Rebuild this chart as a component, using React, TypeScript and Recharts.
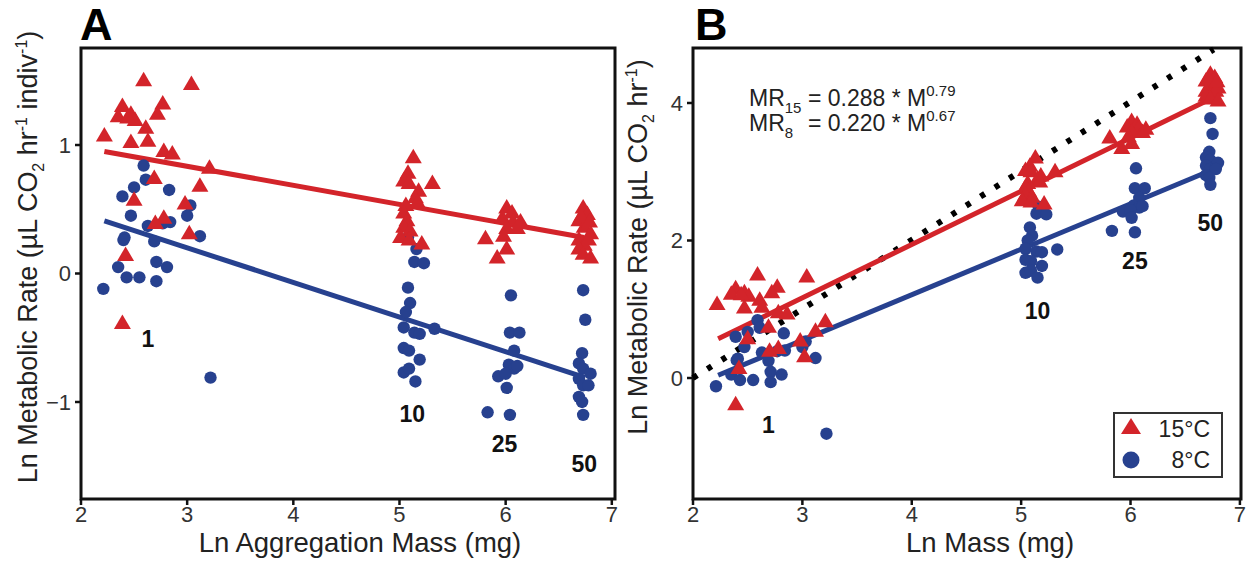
import {
  ScatterChart,
  Scatter,
  XAxis,
  YAxis,
  ReferenceLine,
  ReferenceArea,
  ReferenceDot,
  Legend,
} from "recharts";

// ---- data ----
const X_TICKS = [2, 3, 4, 5, 6, 7];
const A_Y_TICKS = [-1, 0, 1];
const B_Y_TICKS = [0, 2, 4];

// single individuals (same points in both panels)
const RED_1 = [
  [2.59, 1.5], [3.04, 1.47], [2.39, 1.3], [2.77, 1.32], [2.35, 1.22], [2.47, 1.24],
  [2.51, 1.19], [2.44, 1.21], [2.72, 1.24], [2.61, 1.13], [2.22, 1.07], [2.47, 1.02],
  [2.63, 1.03], [2.78, 0.95], [2.86, 0.93], [3.21, 0.82], [2.69, 0.74], [3.12, 0.68],
  [2.5, 0.57], [2.98, 0.54], [2.78, 0.43], [2.7, 0.39], [3.02, 0.31], [2.42, 0.14],
  [2.39, -0.39],
];
const BLUE_1 = [
  [2.59, 0.84], [2.61, 0.73], [2.5, 0.67], [2.83, 0.65], [2.39, 0.6], [3.03, 0.53],
  [2.47, 0.45], [3.0, 0.45], [2.84, 0.4], [2.77, 0.39], [2.63, 0.37], [3.12, 0.29],
  [2.41, 0.28], [2.4, 0.26], [2.69, 0.25], [2.35, 0.05], [2.71, 0.09], [2.81, 0.05],
  [2.43, -0.03], [2.55, -0.03], [2.71, -0.06], [2.21, -0.12], [3.22, -0.81],
];

// panel A: per-individual rate
const RED_A_10 = [
  [5.13, 0.9], [5.08, 0.78], [5.04, 0.72], [5.09, 0.7], [5.31, 0.7], [5.18, 0.64],
  [5.15, 0.59], [5.17, 0.55], [5.06, 0.53], [5.04, 0.47], [5.07, 0.41], [5.04, 0.36],
  [5.1, 0.33], [5.01, 0.28], [5.09, 0.26], [5.21, 0.23],
];
const RED_A_25 = [
  [6.01, 0.51], [6.06, 0.47], [5.97, 0.43], [6.07, 0.4], [6.01, 0.35], [6.11, 0.35],
  [5.98, 0.29], [5.81, 0.27], [6.01, 0.19], [5.92, 0.12], [6.14, 0.4],
];
const RED_A_50 = [
  [6.73, 0.51], [6.77, 0.46], [6.69, 0.41], [6.74, 0.36], [6.8, 0.31], [6.69, 0.26],
  [6.74, 0.22], [6.78, 0.26], [6.69, 0.19], [6.73, 0.15], [6.8, 0.12], [6.71, 0.44],
  [6.79, 0.4],
];
const BLUE_A_10 = [
  [5.08, 0.28], [5.16, 0.19], [5.14, 0.09], [5.23, 0.08], [5.08, -0.11], [5.1, -0.23],
  [5.06, -0.3], [5.04, -0.42], [5.14, -0.46], [5.19, -0.47], [5.33, -0.43], [5.04, -0.58],
  [5.09, -0.6], [5.19, -0.67], [5.04, -0.77], [5.09, -0.74], [5.15, -0.84],
];
const BLUE_A_25 = [
  [6.05, -0.17], [6.04, -0.46], [6.13, -0.46], [6.08, -0.6], [6.03, -0.71], [6.08, -0.74],
  [5.93, -0.8], [6.0, -0.78], [6.01, -0.89], [5.83, -1.08], [6.04, -1.1], [6.11, -0.72],
];
const BLUE_A_50 = [
  [6.73, -0.13], [6.75, -0.36], [6.72, -0.62], [6.69, -0.7], [6.73, -0.74], [6.8, -0.78],
  [6.69, -0.82], [6.73, -0.87], [6.78, -0.87], [6.69, -0.96], [6.72, -1.0], [6.73, -1.1],
];

// panel B: whole-aggregation rate
const RED_B_10 = [
  [5.13, 3.2], [5.08, 3.08], [5.04, 3.02], [5.09, 3.0], [5.31, 3.0], [5.18, 2.94],
  [5.15, 2.89], [5.17, 2.85], [5.06, 2.83], [5.04, 2.77], [5.07, 2.71], [5.04, 2.66],
  [5.1, 2.63], [5.01, 2.58], [5.09, 2.56], [5.21, 2.53],
];
const RED_B_25 = [
  [6.01, 3.73], [6.06, 3.69], [5.97, 3.65], [6.07, 3.62], [6.01, 3.57], [6.11, 3.57],
  [5.98, 3.51], [5.81, 3.49], [6.01, 3.41], [5.92, 3.34], [6.14, 3.62],
];
const RED_B_50 = [
  [6.73, 4.42], [6.77, 4.37], [6.69, 4.32], [6.74, 4.27], [6.8, 4.22], [6.69, 4.17],
  [6.74, 4.13], [6.78, 4.17], [6.69, 4.1], [6.73, 4.06], [6.8, 4.03], [6.71, 4.35],
  [6.79, 4.31],
];
const BLUE_B_10 = [
  [5.08, 2.58], [5.16, 2.49], [5.14, 2.39], [5.23, 2.38], [5.08, 2.19], [5.1, 2.07],
  [5.06, 2.0], [5.04, 1.88], [5.14, 1.84], [5.19, 1.83], [5.33, 1.87], [5.04, 1.72],
  [5.09, 1.7], [5.19, 1.63], [5.04, 1.53], [5.09, 1.56], [5.15, 1.46],
];
const BLUE_B_25 = [
  [6.05, 3.05], [6.04, 2.76], [6.13, 2.76], [6.08, 2.62], [6.03, 2.51], [6.08, 2.48],
  [5.93, 2.42], [6.0, 2.44], [6.01, 2.33], [5.83, 2.14], [6.04, 2.12], [6.11, 2.5],
];
const BLUE_B_50 = [
  [6.73, 3.78], [6.75, 3.55], [6.72, 3.29], [6.69, 3.21], [6.73, 3.17], [6.8, 3.13],
  [6.69, 3.09], [6.73, 3.04], [6.78, 3.04], [6.69, 2.95], [6.72, 2.91], [6.73, 2.81],
];

// fitted lines (end points)
const FIT_A_15 = [[2.22, 0.95], [6.74, 0.28]];
const FIT_A_8 = [[2.22, 0.41], [6.75, -0.81]];
const FIT_B_15 = [[2.23, 0.57], [6.81, 4.12]];
const FIT_B_8 = [[2.23, 0.04], [6.81, 3.07]];
const ISO_B = [[2.0, 0.0], [6.76, 4.78]];

// number of individuals per aggregation
const A_GROUPS = [
  { x: 2.63, y: -0.51, text: "1" },
  { x: 5.12, y: -1.09, text: "10" },
  { x: 5.99, y: -1.33, text: "25" },
  { x: 6.74, y: -1.48, text: "50" },
];
const B_GROUPS = [
  { x: 2.69, y: -0.68, text: "1" },
  { x: 5.15, y: 0.98, text: "10" },
  { x: 6.04, y: 1.7, text: "25" },
  { x: 6.73, y: 2.25, text: "50" },
];

const RED = "#D3242A";
const BLUE = "#27418F";
const FONT = "'Liberation Sans', Arial, Helvetica, sans-serif";

const pts = (arr: number[][]) => arr.map(([x, y]) => ({ x, y }));
const seg = (arr: number[][]) => arr.map(([x, y]) => ({ x, y }));

const Triangle = (p: any) => {
  const { cx, cy } = p;
  return (
    <polygon
      points={`${cx},${cy - 9} ${cx - 8.5},${cy + 5.5} ${cx + 8.5},${cy + 5.5}`}
      fill={RED}
    />
  );
};

const Dot = (p: any) => <circle cx={p.cx} cy={p.cy} r={6.2} fill={BLUE} />;

const GroupText = (text: string) => (p: any) => (
  <text
    x={p.cx}
    y={p.cy}
    textAnchor="middle"
    dominantBaseline="central"
    fontSize={23}
    fontWeight="bold"
    fill="#111"
    fontFamily={FONT}
  >
    {text}
  </text>
);

const fmtTick = (v: number) => (v < 0 ? `\u2212${Math.abs(v)}` : `${v}`);

const LegendBox = () => (
  <div
    style={{
      width: 110,
      height: 66,
      border: "2px solid #333",
      boxSizing: "border-box",
      background: "#fff",
    }}
  >
    <svg width={106} height={62}>
      <polygon points="16,4 6,20 26,20" fill={RED} />
      <circle cx={16} cy={46} r={8.5} fill={BLUE} />
      <text x={95} y={23} textAnchor="end" fontSize={23} fill="#222" fontFamily={FONT}>
        15°C
      </text>
      <text x={95} y={54} textAnchor="end" fontSize={23} fill="#222" fontFamily={FONT}>
        8°C
      </text>
    </svg>
  </div>
);

interface PanelProps {
  width: number;
  margin: { top: number; right: number; bottom: number; left: number };
  xMax: number;
  yDomain: [number, number];
  yTicks: number[];
  red: number[][];
  blue: number[][];
  fits: { line: number[][]; color: string }[];
  groups: { x: number; y: number; text: string }[];
  iso?: number[][];
  legend?: boolean;
}

function Panel(props: PanelProps) {
  const { width, margin, xMax, yDomain, yTicks, red, blue, fits, groups, iso, legend } = props;
  return (
    <ScatterChart width={width} height={562} margin={margin}>
      <XAxis
        type="number"
        dataKey="x"
        domain={[2, xMax]}
        ticks={X_TICKS}
        interval={0}
        allowDataOverflow
        axisLine={false}
        tickSize={6}
        tickMargin={1}
        tickLine={{ stroke: "#111", strokeWidth: 2.5 }}
        tick={{ fill: "#333", fontSize: 22 }}
        height={30}
      />
      <YAxis
        type="number"
        dataKey="y"
        domain={yDomain}
        ticks={yTicks}
        interval={0}
        allowDataOverflow
        axisLine={false}
        tickSize={6}
        tickMargin={4}
        tickFormatter={fmtTick}
        tickLine={{ stroke: "#111", strokeWidth: 2.5 }}
        tick={{ fill: "#333", fontSize: 22 }}
        width={50}
      />
      <ReferenceArea
        x1={2}
        x2={xMax}
        y1={yDomain[0]}
        y2={yDomain[1]}
        fill="none"
        stroke="#111"
        strokeWidth={3}
      />
      <Scatter data={pts(blue)} shape={Dot} isAnimationActive={false} />
      <Scatter data={pts(red)} shape={Triangle} isAnimationActive={false} />
      {iso && (
        <ReferenceLine
          segment={seg(iso)}
          stroke="#000"
          strokeWidth={6}
          strokeDasharray="5 12"
        />
      )}
      {fits.map((f, i) => (
        <ReferenceLine key={i} segment={seg(f.line)} stroke={f.color} strokeWidth={5} />
      ))}
      {groups.map((g) => (
        <ReferenceDot key={g.text} x={g.x} y={g.y} r={0} shape={GroupText(g.text)} />
      ))}
      {legend && (
        <Legend
          layout="vertical"
          align="center"
          verticalAlign="middle"
          content={<LegendBox />}
          wrapperStyle={{ left: 493, top: 412, width: 110, height: 66 }}
        />
      )}
    </ScatterChart>
  );
}

export default function App() {
  const redA = [...RED_1, ...RED_A_10, ...RED_A_25, ...RED_A_50];
  const blueA = [...BLUE_1, ...BLUE_A_10, ...BLUE_A_25, ...BLUE_A_50];
  const redB = [...RED_1, ...RED_B_10, ...RED_B_25, ...RED_B_50];
  const blueB = [...BLUE_1, ...BLUE_B_10, ...BLUE_B_25, ...BLUE_B_50];

  const yTitle = { fontSize: 27, fill: "#222", fontFamily: FONT };
  const xTitle = { fontSize: 27.5, fill: "#222", fontFamily: FONT };
  const sub = 16;

  return (
    <div
      style={{
        position: "absolute",
        left: 0,
        top: 0,
        width: 1247,
        height: 562,
        background: "#fff",
        fontFamily: FONT,
      }}
    >
      <div style={{ position: "absolute", left: 0, top: 0 }}>
        <Panel
          width={620}
          margin={{ top: 48, right: 5, bottom: 33, left: 31 }}
          xMax={7.03}
          yDomain={[-1.755, 1.755]}
          yTicks={A_Y_TICKS}
          red={redA}
          blue={blueA}
          fits={[
            { line: FIT_A_15, color: RED },
            { line: FIT_A_8, color: BLUE },
          ]}
          groups={A_GROUPS}
        />
      </div>
      <div style={{ position: "absolute", left: 620, top: 0 }}>
        <Panel
          width={627}
          margin={{ top: 48, right: 6, bottom: 33, left: 23 }}
          xMax={7.01}
          yDomain={[-1.76, 4.8]}
          yTicks={B_Y_TICKS}
          red={redB}
          blue={blueB}
          fits={[
            { line: FIT_B_15, color: RED },
            { line: FIT_B_8, color: BLUE },
          ]}
          groups={B_GROUPS}
          iso={ISO_B}
          legend
        />
      </div>

      <svg
        width={1247}
        height={562}
        style={{ position: "absolute", left: 0, top: 0, pointerEvents: "none" }}
      >
        <text x={80} y={40} fontSize={45} fontWeight="bold" fill="#000" fontFamily={FONT}>
          A
        </text>
        <text x={695} y={40} fontSize={45} fontWeight="bold" fill="#000" fontFamily={FONT}>
          B
        </text>

        <text x={360} y={552} textAnchor="middle" {...xTitle}>
          Ln Aggregation Mass (mg)
        </text>
        <text x={990} y={552} textAnchor="middle" {...xTitle}>
          Ln Mass (mg)
        </text>

        <text x={37} y={257} textAnchor="middle" transform="rotate(-90 37 257)" {...yTitle}>
          Ln Metabolic Rate (µL CO
          <tspan fontSize={sub} dy={7}>2</tspan>
          <tspan dy={-7}> hr</tspan>
          <tspan fontSize={sub} dy={-10}>-1</tspan>
          <tspan dy={10}> indiv</tspan>
          <tspan fontSize={sub} dy={-10}>-1</tspan>
          <tspan dy={10}>)</tspan>
        </text>
        <text x={647} y={247} textAnchor="middle" transform="rotate(-90 647 247)" {...yTitle}>
          Ln Metabolic Rate (µL CO
          <tspan fontSize={sub} dy={7}>2</tspan>
          <tspan dy={-7}> hr</tspan>
          <tspan fontSize={sub} dy={-10}>-1</tspan>
          <tspan dy={10}>)</tspan>
        </text>

        <g fontSize={23} fill="#222" fontFamily={FONT}>
          <text x={749} y={106}>
            MR
            <tspan fontSize={15} dy={7}>15</tspan>
          </text>
          <text x={808} y={106}>
            = 0.288 * M
            <tspan fontSize={15} dy={-10}>0.79</tspan>
          </text>
          <text x={749} y={131}>
            MR
            <tspan fontSize={15} dy={7}>8</tspan>
          </text>
          <text x={808} y={131}>
            = 0.220 * M
            <tspan fontSize={15} dy={-10}>0.67</tspan>
          </text>
        </g>
      </svg>
    </div>
  );
}
